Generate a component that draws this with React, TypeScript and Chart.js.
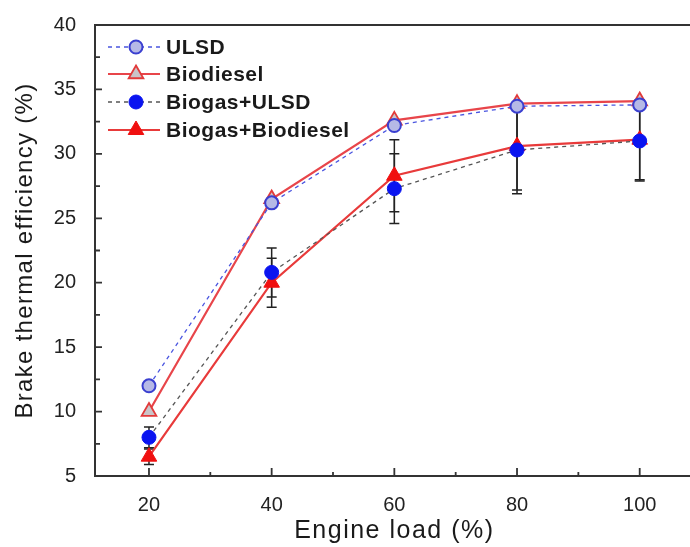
import React, { useEffect, useRef } from "react";
import { Chart, registerables } from "chart.js";

Chart.register(...registerables);

// ---- Data ----
const loads = [20, 40, 60, 80, 100];
const ulsd = [12.0, 26.2, 32.2, 33.7, 33.8];
const biodiesel = [10.0, 26.5, 32.6, 33.9, 34.1];
const biogasUlsd = [8.0, 20.8, 27.3, 30.3, 31.0];
const biogasBiodiesel = [6.5, 20.0, 28.3, 30.6, 31.1];
const biogasUlsdErr = [0.8, 1.9, 2.7, 3.4, 3.1];
const biogasBiodieselErr = [0.6, 1.9, 2.8, 3.4, 3.1];

const xTicks = [20, 40, 60, 80, 100];
const xMinorTicks = [30, 50, 70, 90];
const yTicks = [5, 10, 15, 20, 25, 30, 35, 40];
const yMinorTicks = [7.5, 12.5, 17.5, 22.5, 27.5, 32.5, 37.5];

const seriesNames = ["ULSD", "Biodiesel", "Biogas+ULSD", "Biogas+Biodiesel"];
const xTitle = "Engine load (%)";
const yTitle = "Brake thermal efficiency (%)";

const FONT = "'Liberation Sans', Arial, Helvetica, sans-serif";

type Style = {
  line: string;
  lineWidth: number;
  dash: number[];
  shape: "circle" | "triangle";
  radius: number;
  fill: string;
  stroke: string;
  strokeWidth: number;
};

const styles: Style[] = [
  { line: "#4a55e0", lineWidth: 1.3, dash: [4, 4], shape: "circle", radius: 6.5, fill: "#b6b9e6", stroke: "#3a3fd0", strokeWidth: 2 },
  { line: "#e8454a", lineWidth: 2.2, dash: [], shape: "triangle", radius: 8.5, fill: "#cac4c8", stroke: "#e23a3a", strokeWidth: 1.8 },
  { line: "#555555", lineWidth: 1.3, dash: [4, 4], shape: "circle", radius: 7, fill: "#0a14f0", stroke: "#0a14f0", strokeWidth: 1 },
  { line: "#e83a3a", lineWidth: 2.2, dash: [], shape: "triangle", radius: 9, fill: "#f01010", stroke: "#f01010", strokeWidth: 1 },
];

const seriesData = [ulsd, biodiesel, biogasUlsd, biogasBiodiesel];
const errData: (number[] | null)[] = [null, null, biogasUlsdErr, biogasBiodieselErr];

function drawMarker(ctx: CanvasRenderingContext2D, s: Style, x: number, y: number) {
  ctx.save();
  ctx.setLineDash([]);
  ctx.beginPath();
  if (s.shape === "circle") {
    ctx.arc(x, y, s.radius, 0, Math.PI * 2);
  } else {
    let rad = 0;
    const r = s.radius;
    ctx.moveTo(x + Math.sin(rad) * r, y - Math.cos(rad) * r);
    rad += (2 * Math.PI) / 3;
    ctx.lineTo(x + Math.sin(rad) * r, y - Math.cos(rad) * r);
    rad += (2 * Math.PI) / 3;
    ctx.lineTo(x + Math.sin(rad) * r, y - Math.cos(rad) * r);
    ctx.closePath();
  }
  ctx.fillStyle = s.fill;
  ctx.fill();
  ctx.lineWidth = s.strokeWidth;
  ctx.strokeStyle = s.stroke;
  ctx.stroke();
  ctx.restore();
}

const customPlugin = {
  id: "customDecor",
  beforeDatasetsDraw(chart: any) {
    const ctx: CanvasRenderingContext2D = chart.ctx;
    const xs = chart.scales.x;
    const ys = chart.scales.y;
    ctx.save();
    ctx.strokeStyle = "#222";
    ctx.lineWidth = 1.5;
    ctx.setLineDash([]);
    errData.forEach((errs, si) => {
      if (!errs) return;
      const vals = seriesData[si];
      loads.forEach((l, i) => {
        const x = xs.getPixelForValue(l);
        const yTop = ys.getPixelForValue(vals[i] + errs[i]);
        const yBot = ys.getPixelForValue(vals[i] - errs[i]);
        ctx.beginPath();
        ctx.moveTo(x, yTop);
        ctx.lineTo(x, yBot);
        ctx.moveTo(x - 5, yTop);
        ctx.lineTo(x + 5, yTop);
        ctx.moveTo(x - 5, yBot);
        ctx.lineTo(x + 5, yBot);
        ctx.stroke();
      });
    });
    ctx.restore();
  },
  afterDraw(chart: any) {
    const ctx: CanvasRenderingContext2D = chart.ctx;
    const { left, right, top, bottom } = chart.chartArea;
    const xs = chart.scales.x;
    const ys = chart.scales.y;
    ctx.save();
    ctx.setLineDash([]);
    ctx.strokeStyle = "#333";
    ctx.lineWidth = 2;
    // frame: left, bottom, top
    ctx.beginPath();
    ctx.moveTo(right + 2, top);
    ctx.lineTo(left, top);
    ctx.lineTo(left, bottom);
    ctx.lineTo(right + 2, bottom);
    ctx.stroke();
    // ticks
    ctx.lineWidth = 1.8;
    ctx.beginPath();
    xTicks.forEach((v) => {
      const x = xs.getPixelForValue(v);
      ctx.moveTo(x, bottom);
      ctx.lineTo(x, bottom - 8);
    });
    xMinorTicks.forEach((v) => {
      const x = xs.getPixelForValue(v);
      ctx.moveTo(x, bottom);
      ctx.lineTo(x, bottom - 4);
    });
    yTicks.forEach((v) => {
      const y = ys.getPixelForValue(v);
      ctx.moveTo(left, y);
      ctx.lineTo(left + 7, y);
    });
    yMinorTicks.forEach((v) => {
      const y = ys.getPixelForValue(v);
      ctx.moveTo(left, y);
      ctx.lineTo(left + 5, y);
    });
    ctx.stroke();

    // axis titles
    ctx.fillStyle = "#1a1a1a";
    ctx.textAlign = "center";
    ctx.textBaseline = "middle";
    ctx.save();
    ctx.font = `25px ${FONT}`;
    (ctx as any).letterSpacing = "1.5px";
    ctx.fillText(xTitle, (xs.getPixelForValue(20) + xs.getPixelForValue(100)) / 2, 531);
    ctx.restore();
    ctx.save();
    ctx.translate(25, (top + bottom) / 2);
    ctx.rotate(-Math.PI / 2);
    ctx.font = `24px ${FONT}`;
    (ctx as any).letterSpacing = "1.3px";
    ctx.fillText(yTitle, 0, 0);
    ctx.restore();

    // legend
    const rowsY = [47, 74, 102, 130];
    const lineX0 = 108;
    const lineX1 = 160;
    const markX = 136;
    const textX = 166;
    ctx.font = `bold 21px ${FONT}`;
    (ctx as any).letterSpacing = "0.5px";
    ctx.textAlign = "left";
    ctx.textBaseline = "middle";
    seriesNames.forEach((name, i) => {
      const s = styles[i];
      const y = rowsY[i];
      ctx.save();
      ctx.strokeStyle = s.line;
      ctx.lineWidth = s.lineWidth;
      ctx.setLineDash(s.dash);
      ctx.beginPath();
      ctx.moveTo(lineX0, y);
      ctx.lineTo(lineX1, y);
      ctx.stroke();
      ctx.restore();
      drawMarker(ctx, s, markX, y);
      ctx.fillStyle = "#1a1a1a";
      ctx.fillText(name, textX, y + 1);
    });
    ctx.restore();
  },
};

export default function App() {
  const canvasRef = useRef<HTMLCanvasElement | null>(null);

  useEffect(() => {
    document.body.style.margin = "0";
    const canvas = canvasRef.current;
    if (!canvas) return;

    const datasets = seriesNames.map((name, i) => {
      const s = styles[i];
      return {
        label: name,
        data: loads.map((l, j) => ({ x: l, y: seriesData[i][j] })),
        borderColor: s.line,
        borderWidth: s.lineWidth,
        borderDash: s.dash,
        pointStyle: s.shape,
        pointRadius: s.radius,
        pointBackgroundColor: s.fill,
        pointBorderColor: s.stroke,
        pointBorderWidth: s.strokeWidth,
        fill: false,
        tension: 0,
      };
    });

    const chart = new Chart(canvas, {
      type: "line",
      data: { datasets } as any,
      options: {
        responsive: false,
        animation: false,
        devicePixelRatio: 1,
        layout: { autoPadding: false, padding: { top: 25, right: 0, left: 0, bottom: 0 } },
        plugins: {
          legend: { display: false },
          tooltip: { enabled: false },
        },
        scales: {
          x: {
            type: "linear",
            min: 11.2,
            max: 108.2,
            grid: { display: false },
            border: { display: false },
            afterBuildTicks: (scale: any) => {
              scale.ticks = xTicks.map((v) => ({ value: v }));
            },
            afterFit: (scale: any) => {
              scale.height = 71;
              scale.paddingLeft = 0;
              scale.paddingRight = 0;
            },
            ticks: {
              color: "#222",
              font: { family: FONT, size: 20 },
              padding: 9,
              maxRotation: 0,
              autoSkip: false,
            },
          },
          y: {
            type: "linear",
            min: 5,
            max: 40,
            grid: { display: false },
            border: { display: false },
            afterBuildTicks: (scale: any) => {
              scale.ticks = yTicks.map((v) => ({ value: v }));
            },
            afterFit: (scale: any) => {
              scale.width = 95;
              scale.paddingTop = 0;
              scale.paddingBottom = 0;
            },
            ticks: {
              color: "#222",
              font: { family: FONT, size: 20 },
              padding: 11,
              autoSkip: false,
            },
          },
        },
      } as any,
      plugins: [customPlugin as any],
    });

    return () => {
      chart.destroy();
    };
  }, []);

  return (
    <div style={{ width: 690, height: 547, background: "#fff" }}>
      <canvas ref={canvasRef} width={690} height={547} style={{ display: "block" }} />
    </div>
  );
}
